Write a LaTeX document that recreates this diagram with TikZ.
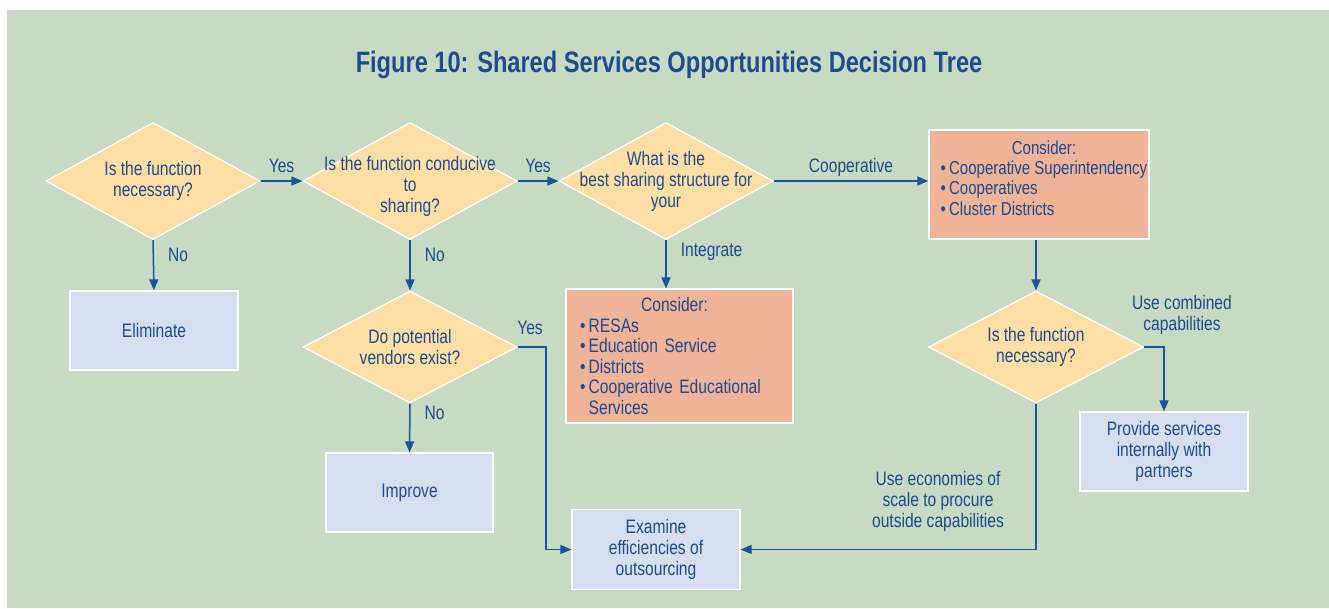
\documentclass[tikz,border=0pt]{standalone}
\usepackage{fontspec}
\setmainfont{Liberation Sans}[FakeStretch=0.8]
\newfontfamily\titlefont{Liberation Sans}[FakeStretch=0.8]
\usetikzlibrary{shapes.geometric,arrows.meta}
\definecolor{bg}{HTML}{C8DAC4}
\definecolor{dia}{HTML}{FDDFA5}
\definecolor{pinkbox}{HTML}{EFB39A}
\definecolor{bluebox}{HTML}{D6DEF0}
\definecolor{ink}{HTML}{1E4C8C}
\definecolor{arr}{HTML}{1A5596}
\tikzset{
  txt/.style={text=ink, align=center, font=\fontsize{19.5}{21}\selectfont},
  dec/.style={diamond, draw=white, line width=1.2pt, fill=dia, minimum width=214pt, minimum height=117pt, inner sep=0pt},
  rbox/.style={rectangle, draw=white, line width=1.2pt, fill=bluebox, txt, minimum width=168pt, minimum height=79pt, inner sep=0pt},
  pbox/.style={rectangle, draw=white, line width=1.2pt, fill=pinkbox, text=ink, font=\fontsize{19.5}{20.6}\selectfont, inner sep=0pt},
  conn/.style={draw=arr, line width=1.5pt, -{Triangle[length=11pt,width=9pt]}},
  lab/.style={txt, inner sep=2pt},
  toplab/.style={txt, inner sep=0pt, anchor=base, yshift=8.5pt},
}
\begin{document}
\begin{tikzpicture}[x=1pt,y=-1pt]
\fill[white] (0,0) rectangle (1329,608);
\fill[bg] (7,10) rectangle (1329,608);
\useasboundingbox (0,0) rectangle (1329,608);

\node[text=ink, font=\titlefont\bfseries\fontsize{29.5}{32}\selectfont] (title) at (669,65) {Figure 10: Shared Services Opportunities Decision Tree};

% decisions
\node[dec, label={[txt]center:{Is the function\\necessary?}}] (d1) at (153,181) {};
\node[dec, label={[txt, yshift=-5pt]center:{Is the function conducive\\to\\sharing?}}] (d2) at (410,181) {};
\node[dec, label={[txt]center:{What is the\\best sharing structure for\\your}}] (d3) at (666,181) {};
\node[dec, minimum height=112pt, label={[txt]center:{Do potential\\vendors exist?}}] (d5) at (410,347) {};
\node[dec, minimum width=215pt, minimum height=112pt, label={[txt]center:{Is the function\\necessary?}}] (d4) at (1036,347) {};

% boxes
\node[rbox] (elim) at (154,330.5) {Eliminate};
\node[rbox, minimum width=167pt] (impr) at (409.5,492.5) {Improve};
\node[rbox, minimum height=80pt] (exam) at (656,549.5) {Examine\\efficiencies of\\outsourcing};
\node[rbox] (prov) at (1164,451.5) {Provide services\\internally with\\partners};

\node[pbox, minimum width=220pt, minimum height=109pt] (pb1) at (1039,184.5) {};
\node[text=ink, font=\fontsize{18.8}{20.6}\selectfont, inner sep=0pt, anchor=center] (pb1t) at (1044,180.5)
  {\begin{tabular}{@{}l@{}}\multicolumn{1}{c}{Consider:}\\[-0.2pt]
   \textbullet\,Cooperative Superintendency\\[-0.2pt]
   \textbullet\,Cooperatives\\[-0.2pt]
   \textbullet\,Cluster Districts\end{tabular}};
\node[pbox, minimum width=227pt, minimum height=134pt, text width=199pt, align=left] (pb2) at (679.5,356)
  {\makebox[\linewidth][c]{\hspace*{-10pt}Consider:}\\
   \textbullet\,RESAs\\
   \textbullet\,Education Service\\
   \textbullet\,Districts\\
   \textbullet\,Cooperative Educational\\
   \hphantom{\textbullet\,}Services};

% connectors
\draw[conn] (d1.east) -- (d2.west) node[toplab, midway] (y1) {Yes};
\draw[conn] (d2.east) -- (d3.west) node[toplab, midway] (y2) {Yes};
\draw[conn] (d3.east) -- (d3.east -| pb1.west) node[toplab, midway] (coop) {Cooperative};
\draw[conn] (d1.south) -- (elim.north) node[lab, pos=0.3, anchor=west, xshift=12pt] (n1) {No};
\draw[conn] (d2.south) -- (d5.north) node[lab, pos=0.3, anchor=west, xshift=12pt] (n2) {No};
\draw[conn] (d5.south) -- (impr.north) node[lab, pos=0.2, anchor=west, xshift=12pt] (n3) {No};
\draw[conn] (d3.south) -- (pb2.north -| d3.south) node[lab, pos=0.25, anchor=west, xshift=12pt] (integ) {Integrate};
\draw[conn] (pb1.south -| d4.north) -- (d4.north);
\draw[conn] (d4.east) -| (prov.north);
\draw[conn] (d4.south) |- (exam.east);
\coordinate (c5) at (546,347);
\draw[conn] (d5.east) -- (c5) |- (exam.west);

\node[lab] (yes5) at (530,328) {Yes};
\node[lab] (combined) at (1182,315) {Use combined\\capabilities};
\node[lab] (econ) at (938,501) {Use economies of\\scale to procure\\outside capabilities};
\end{tikzpicture}
\end{document}
